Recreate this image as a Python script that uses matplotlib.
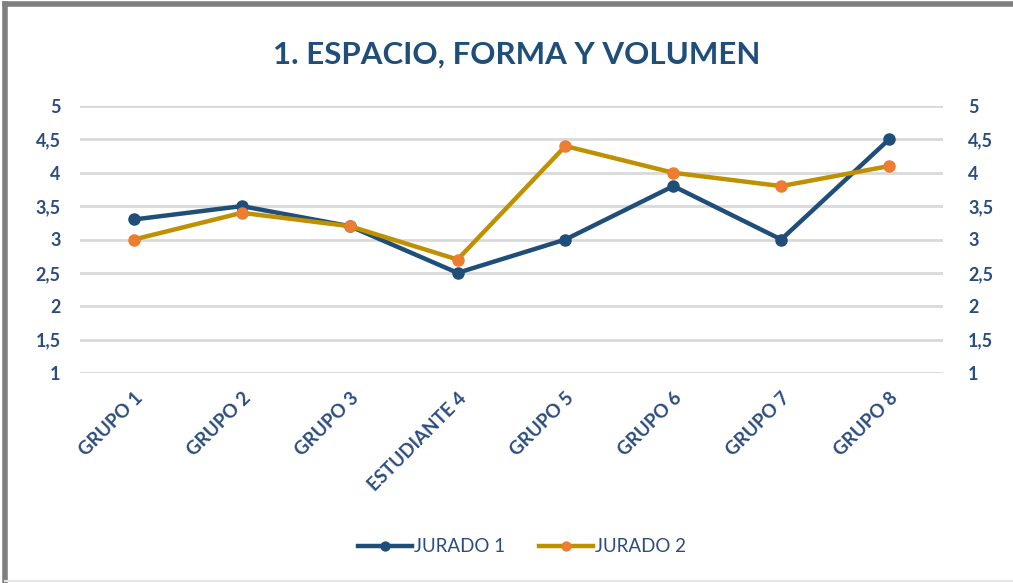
import matplotlib.pyplot as plt
from matplotlib.lines import Line2D

categorias = ['GRUPO 1', 'GRUPO 2', 'GRUPO 3', 'ESTUDIANTE 4', 'GRUPO 5', 'GRUPO 6', 'GRUPO 7', 'GRUPO 8']
jurado1 = [3.3, 3.5, 3.2, 2.5, 3.0, 3.8, 3.0, 4.5]
jurado2 = [3.0, 3.4, 3.2, 2.7, 4.4, 4.0, 3.8, 4.1]
yticks = [1, 1.5, 2, 2.5, 3, 3.5, 4, 4.5, 5]
ylabels = ['1', '1,5', '2', '2,5', '3', '3,5', '4', '4,5', '5']

text_col = '#2B4C7E'
plt.rcParams['font.family'] = ['Lato', 'DejaVu Sans']

fig = plt.figure(figsize=(10.13, 5.83), dpi=100)
ax = fig.add_axes([80/1013, 1 - 373/583, 863/1013, 267/583])

x = range(len(categorias))
ax.plot(x, jurado1, color='#1F4E79', lw=3.2, marker='o', ms=8,
        mfc='#1F4E79', mec='#1F4E79', label='JURADO 1', zorder=3)
ax.plot(x, jurado2, color='#BF9000', lw=3.2, marker='o', ms=8,
        mfc='#ED7D31', mec='#ED7D31', label='JURADO 2', zorder=4)

ax.set_xlim(-0.5, len(categorias) - 0.5)
ax.set_ylim(1, 5)
ax.set_yticks(yticks)
ax.set_yticklabels(ylabels, fontsize=13, color=text_col, fontweight='bold')
ax.set_xticks(list(x))
ax.set_xticklabels(categorias, rotation=45, ha='right', va='top', rotation_mode='anchor',
                   fontsize=13.5, color=text_col, fontweight='bold')
ax.tick_params(axis='x', length=0, pad=12)
ax.tick_params(axis='y', length=0, pad=14)
ax.grid(axis='y', color='#D9D9D9', lw=2)
ax.set_axisbelow(True)
for s in ax.spines.values():
    s.set_visible(False)

ax2 = ax.twinx()
ax2.set_ylim(1, 5)
ax2.set_yticks(yticks)
ax2.set_yticklabels(ylabels, fontsize=13, color=text_col, fontweight='bold')
ax2.tick_params(axis='y', length=0, pad=18)
for s in ax2.spines.values():
    s.set_visible(False)

fig.text(517/1013, 1 - 55/583, '1. ESPACIO, FORMA Y VOLUMEN', ha='center', va='center',
         fontsize=22.5, fontweight='bold', color='#1F4E79')

fig.legend(loc='center', bbox_to_anchor=(522/1013, 1 - 547/583), ncol=2, frameon=False,
           fontsize=13.5, labelcolor=text_col, handlelength=2.9, columnspacing=1.8,
           handletextpad=0.1, markerscale=0.8)

# marco gris (arriba e izquierda)
fig.add_artist(Line2D([5/1013, 1], [1 - 4/583, 1 - 4/583], transform=fig.transFigure,
                      color='#7F7F7F', lw=4))
fig.add_artist(Line2D([5/1013, 5/1013], [0, 1 - 4/583], transform=fig.transFigure,
                      color='#7F7F7F', lw=4))
fig.add_artist(Line2D([5/1013, 1], [2/583, 2/583], transform=fig.transFigure,
                      color='#E6E6E6', lw=1.5))

fig.savefig('out.png', dpi=100)
